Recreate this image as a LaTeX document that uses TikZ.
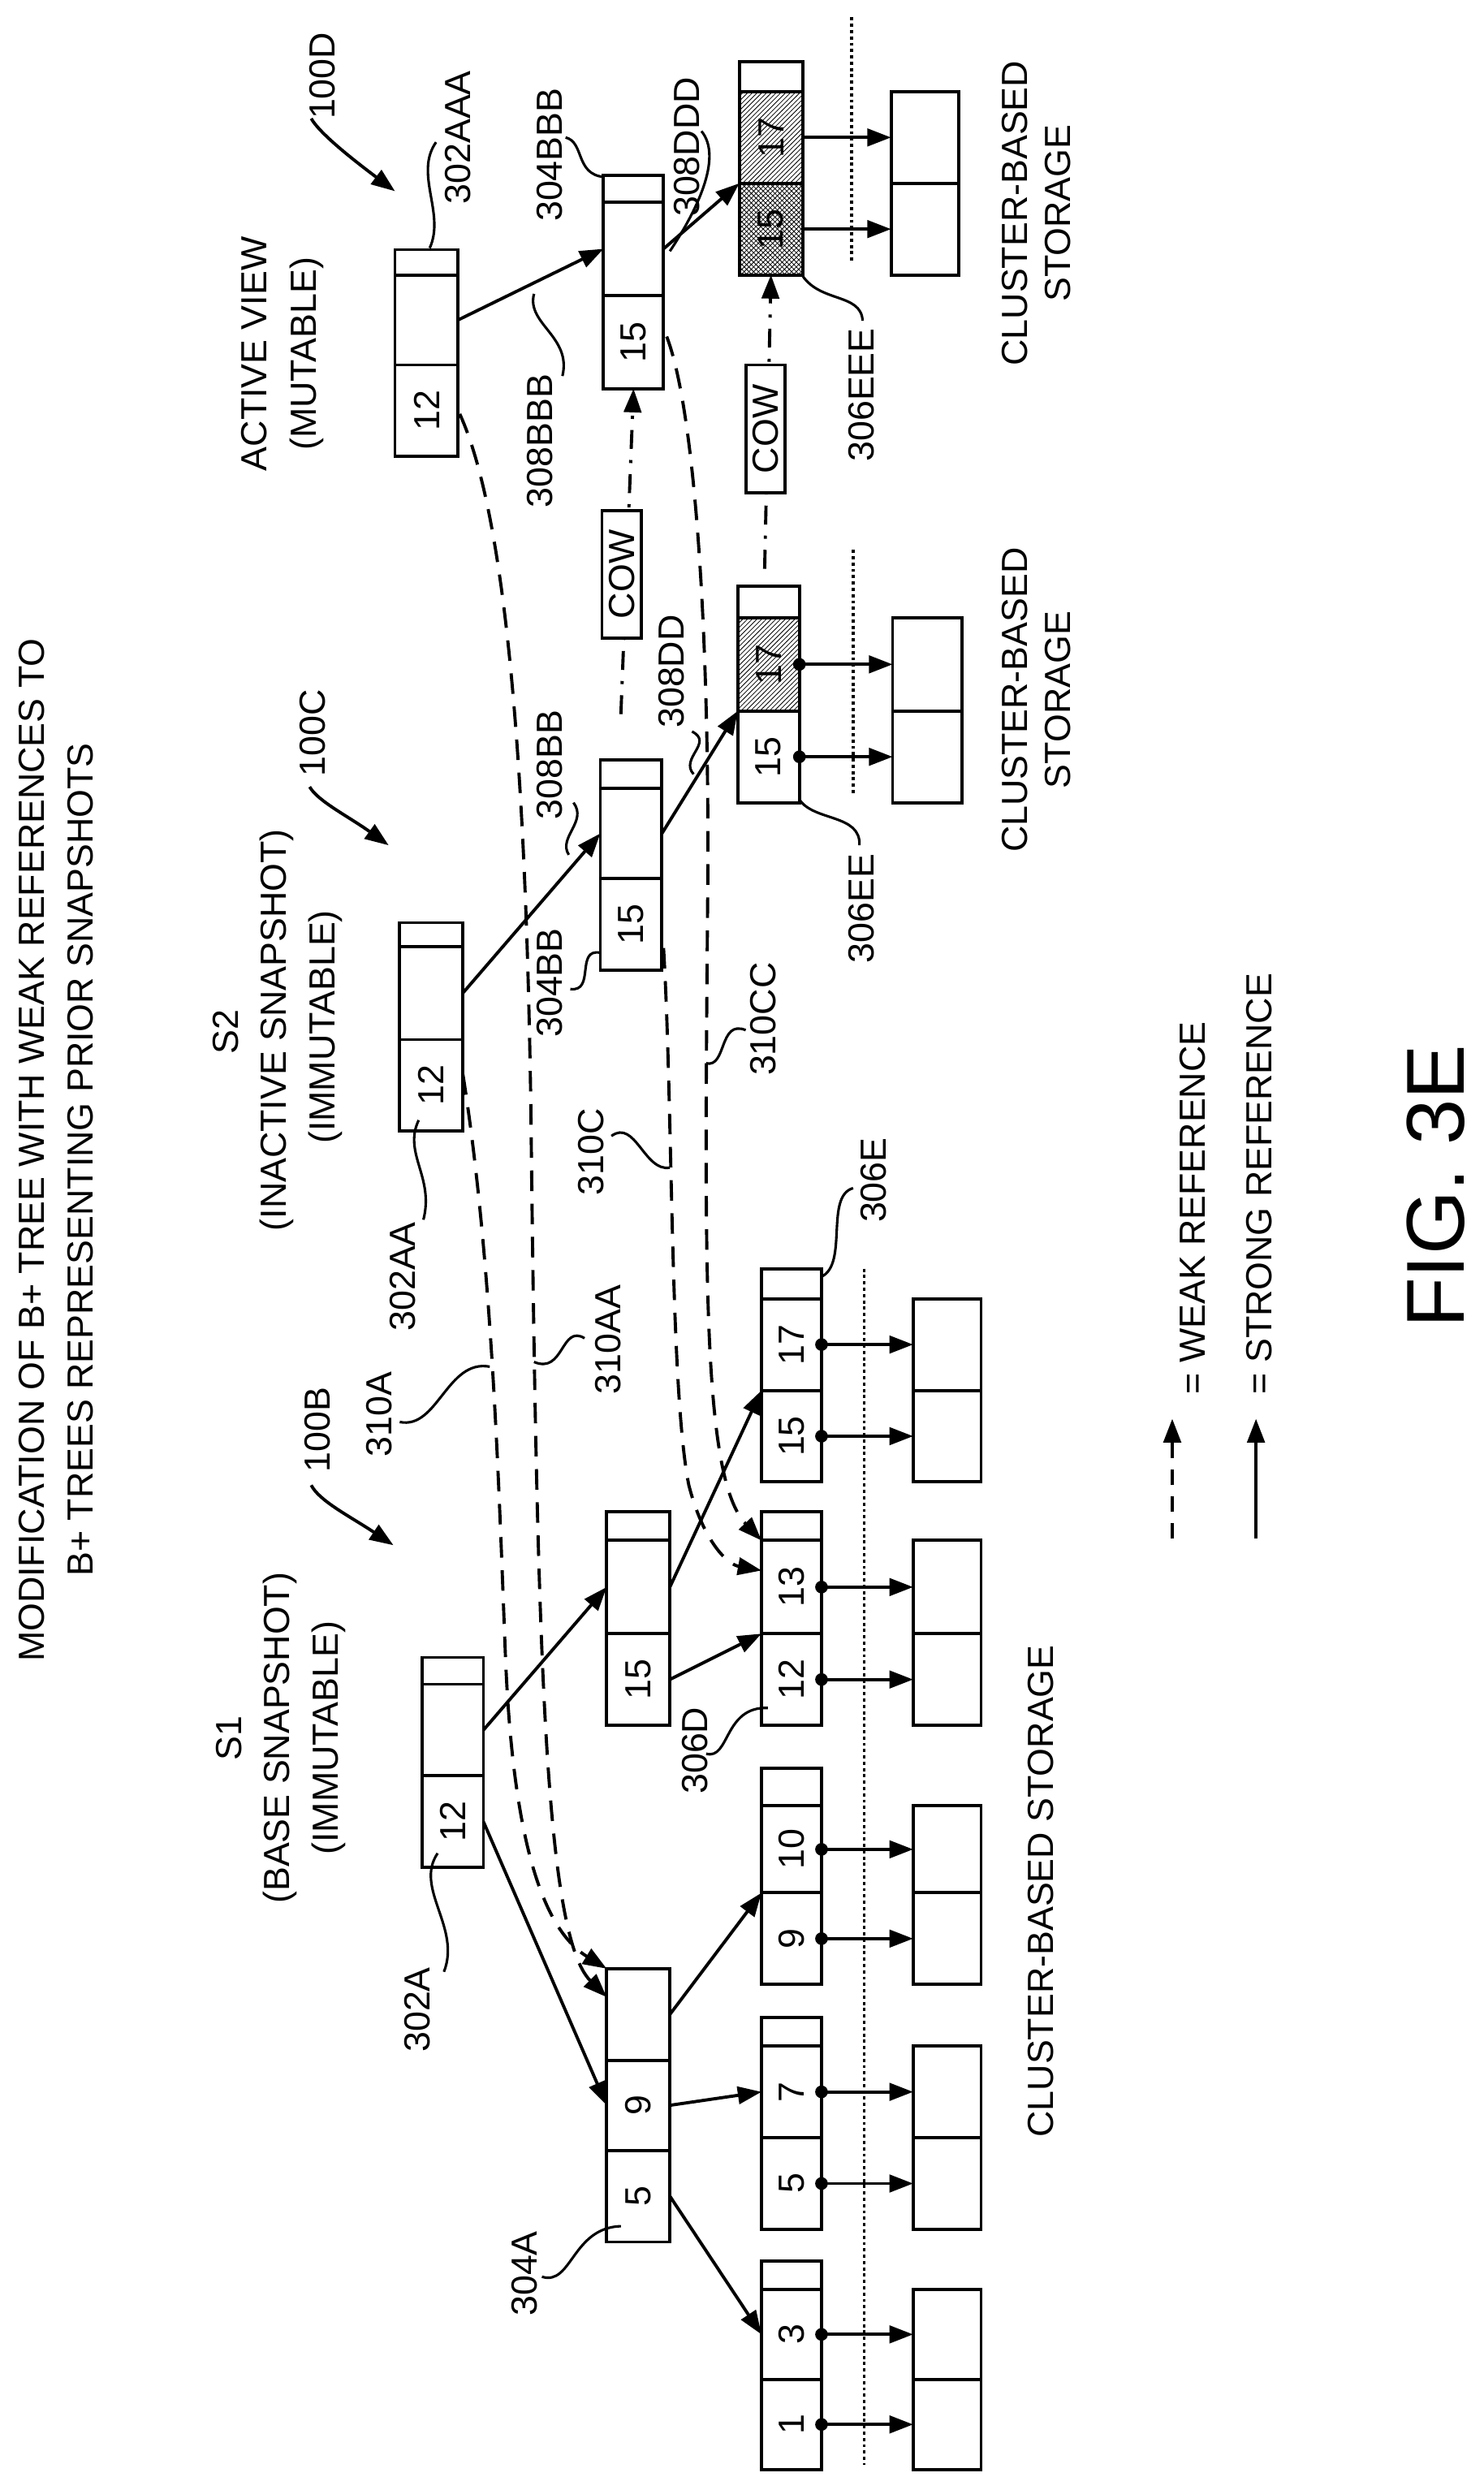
\documentclass[tikz,border=0pt]{standalone}
\usepackage{fontspec}
\setmainfont{Liberation Sans}
\usepackage{graphicx}
\usetikzlibrary{arrows.meta,patterns,calc}
\begin{document}
\begin{tikzpicture}[x=1pt,y=-1pt,
  every node/.style={font=\fontsize{23}{27}\selectfont},
  cell/.style={draw,line width=2pt,inner sep=0pt,outer sep=0pt},
  strong/.style={line width=2pt,-{Triangle[length=15pt,width=11pt]}},
  ptr/.style={line width=2pt,{Circle[length=8pt]}-{Triangle[length=15pt,width=11pt]},shorten <=-4pt},
  weak/.style={line width=2pt,dash pattern=on 13pt off 8pt,-{Triangle[length=15pt,width=11pt]}},
  cow/.style={line width=2pt,dash pattern=on 12pt off 7pt on 2pt off 7pt,-{Triangle[length=15pt,width=11pt]}},
  lead/.style={line width=1.6pt},
  lbl/.style={rotate=90},
  dots/.style={line width=1.8pt,dash pattern=on 2pt off 2pt},
  cowbox/.style={draw,line width=2pt,fill=white,minimum width=25pt,minimum height=81pt,inner sep=0pt}
]
\newcommand\cel[7][]{\pgfmathsetmacro\mycx{(#3+#4)/2}\pgfmathsetmacro\mycy{(#5+#6)/2}\pgfmathsetmacro\mycw{#4-#3}\pgfmathsetmacro\mych{#6-#5}\node[cell,#1,minimum width=\mycw pt,minimum height=\mych pt] (#2) at (\mycx,\mycy) {\rotatebox{90}{#7}};}
\useasboundingbox (0,0) rectangle (939,1576);
% titles
\node[lbl] (t1) at (20,728) {MODIFICATION OF B+ TREE WITH WEAK REFERENCES TO};
\node[lbl] (t2) at (51,734) {B+ TREES REPRESENTING PRIOR SNAPSHOTS};
\node[lbl] (s1a) at (145,1100) {S1};
\node[lbl] (s1b) at (177,1100) {(BASE SNAPSHOT)};
\node[lbl] (s1c) at (208,1100) {(IMMUTABLE)};
\node[lbl] (s2a) at (143,653) {S2};
\node[lbl] (s2b) at (175,652) {(INACTIVE SNAPSHOT)};
\node[lbl] (s2c) at (206,650) {(IMMUTABLE)};
\node[lbl] (s3a) at (161,224) {ACTIVE VIEW};
\node[lbl] (s3b) at (194,224) {(MUTABLE)};
\node[lbl] (n100b) at (201,905) {100B};
\node[lbl] (n100c) at (198,464) {100C};
\node[lbl] (n100d) at (204,48) {100D};
\coordinate (p100b) at (249,978);
\coordinate (p100c) at (246,535);
\coordinate (p100d) at (250,121);
\draw[strong] (197,940) .. controls (202,950) and (222,960) .. (p100b);
\draw[strong] (196,498) .. controls (201,507) and (221,517) .. (p100c);
\draw[strong] (197,75) .. controls (202,84) and (222,100) .. (p100d);
% dotted separators
\draw[dots] (547,803) -- (547,1560);
\draw[dots] (540,348) -- (540,503);
\draw[dots] (539,11) -- (539,166);
% S1 tree
\cel{r1t}{267}{306}{1049}{1066}{}
\cel{r1m}{267}{306}{1066}{1124}{}
\cel{r1k}{267}{306}{1124}{1182}{12}
\cel{at}{384}{424}{1246}{1304}{}
\cel{a9}{384}{424}{1304}{1361}{9}
\cel{a5}{384}{424}{1361}{1419}{5}
\cel{bt}{384}{424}{957}{975}{}
\cel{bm}{384}{424}{975}{1034}{}
\cel{bk}{384}{424}{1034}{1092}{15}
\cel{l1t}{482}{520}{1431}{1449}{}
\cel{l1b}{482}{520}{1449}{1506}{3}
\cel{l1a}{482}{520}{1506}{1563}{1}
\cel{l2t}{482}{520}{1277}{1295}{}
\cel{l2b}{482}{520}{1295}{1353}{7}
\cel{l2a}{482}{520}{1353}{1411}{5}
\cel{l3t}{482}{520}{1119}{1143}{}
\cel{l3b}{482}{520}{1143}{1198}{10}
\cel{l3a}{482}{520}{1198}{1256}{9}
\cel{l4t}{482}{520}{957}{975}{}
\cel{l4b}{482}{520}{975}{1034}{13}
\cel{l4a}{482}{520}{1034}{1092}{12}
\cel{l5t}{482}{520}{803}{822}{}
\cel{l5b}{482}{520}{822}{880}{17}
\cel{l5a}{482}{520}{880}{938}{15}
\cel{c1b}{578}{621}{1449}{1506}{}
\cel{c1a}{578}{621}{1506}{1563}{}
\cel{c2b}{578}{621}{1295}{1353}{}
\cel{c2a}{578}{621}{1353}{1411}{}
\cel{c3b}{578}{621}{1143}{1198}{}
\cel{c3a}{578}{621}{1198}{1256}{}
\cel{c4b}{578}{621}{975}{1034}{}
\cel{c4a}{578}{621}{1034}{1092}{}
\cel{c5b}{578}{621}{822}{880}{}
\cel{c5a}{578}{621}{880}{938}{}
% S2 tree
\cel{r2t}{253}{293}{584}{599}{}
\cel{r2m}{253}{293}{599}{658}{}
\cel{r2k}{253}{293}{658}{716}{12}
\cel{s2t}{380}{419}{481}{499}{}
\cel{s2m}{380}{419}{499}{556}{}
\cel{s2k}{380}{419}{556}{614}{15}
\cel{e2t}{467}{506}{371}{391}{}
\cel[pattern=north east lines]{e2b}{467}{506}{391}{450}{17}
\cel{e2a}{467}{506}{450}{508}{15}
\cel{d2b}{565}{609}{391}{450}{}
\cel{d2a}{565}{609}{450}{508}{}
% Active tree
\cel{r3t}{250}{290}{158}{174}{}
\cel{r3m}{250}{290}{174}{231}{}
\cel{r3k}{250}{290}{231}{289}{12}
\cel{s3t}{382}{420}{111}{128}{}
\cel{s3m}{382}{420}{128}{187}{}
\cel{s3k}{382}{420}{187}{246}{15}
\cel{e3t}{468}{508}{39}{58}{}
\cel[pattern=north east lines]{e3b}{468}{508}{58}{116}{17}
\cel[pattern=crosshatch]{e3a}{468}{508}{116}{174}{15}
\cel{d3b}{564}{607}{58}{116}{}
\cel{d3a}{564}{607}{116}{174}{}
% strong edges
\draw[strong] (r1m.east) -- (bm.west);
\draw[strong] (r1k.east) -- (a9.west);
\draw[strong] (at.east) -- (l3a.north west);
\draw[strong] (a9.east) -- (l2b.west);
\draw[strong] (a5.east) -- (l1b.west);
\draw[strong] (bk.east) -- (l4a.north west);
\draw[strong] (bm.east) -- (l5a.north west);
\draw[strong] (r2m.east) -- (s2m.west);
\draw[strong] (s2m.east) -- (e2a.north west);
\draw[strong] (r3m.east) -- (s3m.west);
\draw[strong] (s3m.east) -- (e3a.north west);
% leaf pointers
\foreach \a/\b in {l1a/c1a,l1b/c1b,l2a/c2a,l2b/c2b,l3a/c3a,l3b/c3b,l4a/c4a,l4b/c4b,l5a/c5a,l5b/c5b,e2a/d2a,e2b/d2b}
  \draw[ptr] (\a.east) -- (\b.west);
\draw[strong] (e3a.east) -- (d3a.west);
\draw[strong] (e3b.east) -- (d3b.west);
% weak references
\coordinate (w1) at (384,1246);
\coordinate (w2) at (384,1264);
\coordinate (w3) at (482,994);
\coordinate (w4) at (482,975);
\draw[weak] (293,680) .. controls (312,800) and (316,950) .. (320,1050) .. controls (325,1170) and (345,1222) .. (w1);
\draw[weak] (291,262) .. controls (322,330) and (333,500) .. (336,700) .. controls (340,1050) and (345,1225) .. (w2);
\draw[weak] (420,600) .. controls (426,700) and (424,880) .. (436,940) .. controls (445,975) and (460,990) .. (w3);
\draw[weak] (422,213) .. controls (440,260) and (449,400) .. (448,560) .. controls (446,800) and (444,935) .. (w4);
% COW
\draw[cow] (393,452) -- (s3k.south);
\node[cowbox] (cow1) at (393.5,363.5) {\rotatebox{90}{COW}};
\draw[cow] (484,360) -- (e3a.south);
\node[cowbox] (cow2) at (484.5,271.5) {\rotatebox{90}{COW}};
% labels with leaders
\node[lbl] (L302A) at (264,1272) {302A};
\draw[lead] (281,1248) .. controls (292,1220) and (262,1195) .. (277,1173);
\node[lbl] (L304A) at (332,1439) {304A};
\draw[lead] (343,1441) .. controls (362,1447) and (362,1410) .. (393,1409);
\node[lbl] (L306D) at (440,1108) {306D};
\draw[lead] (447,1110) .. controls (462,1114) and (458,1080) .. (486,1081);
\node[lbl] (L306E) at (553,747) {306E};
\draw[lead] (520,808) .. controls (537,800) and (522,757) .. (540,752);
\node[lbl] (L310A) at (240,895) {310A};
\draw[lead] (253,900) .. controls (277,905) and (283,860) .. (310,865);
\node[lbl] (L310AA) at (385,848) {310AA};
\draw[lead] (370,847) .. controls (355,838) and (357,870) .. (338,862);
\node[lbl] (L302AA) at (255,808) {302AA};
\draw[lead] (268,772) .. controls (275,745) and (255,730) .. (265,709);
\node[lbl] (L310C) at (374,729) {310C};
\draw[lead] (387,719) .. controls (402,708) and (408,742) .. (424,739);
\node[lbl] (L310CC) at (483,645) {310CC};
\draw[lead] (472,652) .. controls (455,645) and (460,676) .. (447,673);
\node[lbl] (L304BB) at (348,622) {304BB};
\draw[lead] (361,626) .. controls (377,628) and (364,600) .. (380,603);
\node[lbl] (L306EE) at (545,575) {306EE};
\draw[lead] (544,535) .. controls (545,515) and (515,520) .. (506,506);
\node[lbl] (L302AAA) at (290,87) {302AAA};
\draw[lead] (276,90) .. controls (262,110) and (282,135) .. (272,157);
\node[lbl] (L304BBB) at (348,98) {304BBB};
\draw[lead] (358,87) .. controls (370,90) and (364,110) .. (382,112);
\node[lbl] (L308DDD) at (435,93) {308DDD};
\draw[lead] (444,83) .. controls (458,100) and (440,135) .. (424,159);
\node[lbl] (L308BBB) at (342,279) {308BBB};
\draw[lead] (356,238) .. controls (362,213) and (333,205) .. (338,186);
\node[lbl] (L306EEE) at (545,250) {306EEE};
\draw[lead] (546,203) .. controls (545,185) and (518,192) .. (507,173);
\node[lbl] (L308BB) at (348,484) {308BB};
\draw[lead] (363,508) .. controls (372,520) and (353,530) .. (360,541);
\node[lbl] (L308DD) at (425,425) {308DD};
\draw[lead] (438,463) .. controls (452,470) and (430,480) .. (439,490);
% storage labels
\node[lbl] (cs1) at (659,1197) {CLUSTER-BASED STORAGE};
\node[lbl,align=center] (cs2) at (656,443) {CLUSTER-BASED\\STORAGE};
\node[lbl,align=center] (cs3) at (656,135) {CLUSTER-BASED\\STORAGE};
% legend
\coordinate (lw0) at (742,974); \coordinate (lw1) at (742,898);
\coordinate (ls0) at (795,974); \coordinate (ls1) at (795,898);
\draw[weak,dash pattern=on 10pt off 7pt] (lw0) -- (lw1);
\draw[strong] (ls0) -- (ls1);
\node[lbl,anchor=north] (lgw) at (742,884) {};
\node[rotate=90,anchor=west] (lgwt) at (755,886) {= WEAK REFERENCE};
\node[rotate=90,anchor=west] (lgst) at (797,886) {= STRONG REFERENCE};
\node[rotate=90,font=\fontsize{52}{60}\selectfont] (fig) at (909,751) {FIG. 3E};
\end{tikzpicture}
\end{document}
